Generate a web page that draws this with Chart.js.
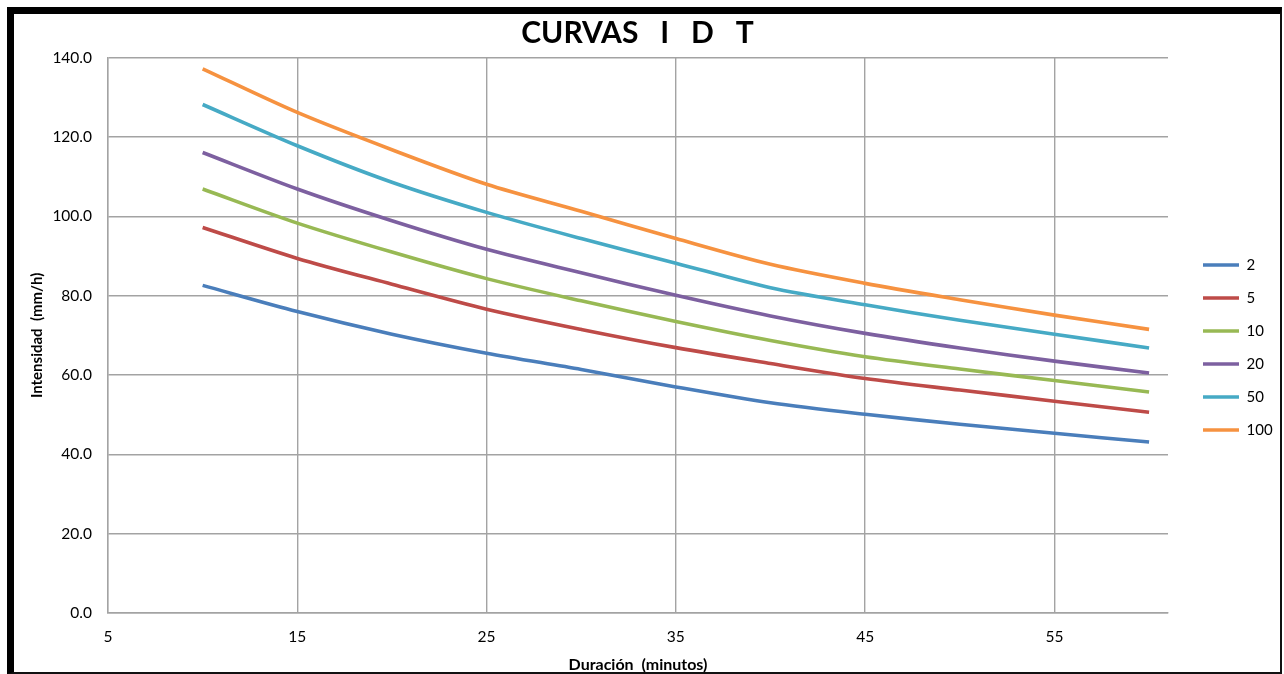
<!DOCTYPE html>
<html>
<head>
<meta charset="utf-8">
<script src="https://cdn.jsdelivr.net/npm/chart.js@4.4.1/dist/chart.umd.min.js"></script>
<style>
  html, body { margin: 0; padding: 0; background: #fff; }
  #wrap { position: relative; width: 1284px; height: 674px; }
  #frame { position: absolute; left: 7px; top: 7px; width: 1275px; height: 667px; box-sizing: border-box;
           border-left: 7px solid #000; border-top: 7px solid #000; border-right: 2px solid #111; border-bottom: 2px solid #111;
           pointer-events: none; }
  canvas { position: absolute; left: 0; top: 0; }
</style>
</head>
<body>
<div id="wrap">
  <canvas id="c" width="1284" height="674"></canvas>
  <div id="frame"></div>
</div>
<script>
const durations = [10, 15, 20, 25, 30, 35, 40, 45, 50, 55, 60];
const seriesNames = ['2', '5', '10', '20', '50', '100'];
const t2   = [82.6, 76.0, 70.3, 65.5, 61.4, 57.0, 53.0, 50.1, 47.6, 45.3, 43.1];
const t5   = [97.2, 89.4, 82.9, 76.6, 71.5, 66.9, 62.9, 59.1, 56.2, 53.4, 50.6];
const t10  = [106.9, 98.3, 91.0, 84.3, 78.7, 73.5, 68.7, 64.6, 61.5, 58.6, 55.7];
const t20  = [116.1, 106.9, 98.9, 91.7, 85.8, 80.1, 74.9, 70.5, 66.8, 63.5, 60.5];
const t50  = [128.2, 117.8, 108.6, 101.0, 94.4, 88.2, 82.0, 77.7, 73.8, 70.3, 66.8];
const t100 = [137.2, 126.2, 116.8, 108.1, 101.3, 94.4, 87.9, 83.1, 79.0, 75.1, 71.5];
const xTickValues = [5, 15, 25, 35, 45, 55];
const yTickValues = [0, 20, 40, 60, 80, 100, 120, 140];
const colors = ['#4A7EBB', '#BE4B48', '#98B954', '#7D60A0', '#46AAC5', '#F69240'];

const allSeries = [t2, t5, t10, t20, t50, t100];
const datasets = allSeries.map((vals, i) => ({
  label: seriesNames[i],
  data: vals.map((v, j) => ({ x: durations[j], y: v })),
  borderColor: colors[i],
  backgroundColor: colors[i],
  borderWidth: 3.6,
  pointRadius: 0,
  pointHoverRadius: 0,
  tension: 0.3,
  fill: false
}));

const FONT = 'Lato, "Open Sans", sans-serif';
const gridColor = '#a3a3a3';

new Chart(document.getElementById('c'), {
  type: 'line',
  data: { datasets },
  options: {
    responsive: false,
    animation: false,
    devicePixelRatio: 1,
    layout: { padding: { left: 0, right: 9, top: 0, bottom: 0 } },
    plugins: {
      title: {
        display: true,
        text: 'CURVAS   I   D   T',
        color: '#000',
        font: { family: FONT, size: 30, weight: 'bold', lineHeight: 1.2 },
        padding: { top: 15, bottom: 6.7 }
      },
      legend: {
        position: 'right',
        maxWidth: 90,
        title: { display: true, text: ' ', font: { size: 10, lineHeight: 1 }, padding: { top: 11, bottom: 0 } },
        labels: {
          usePointStyle: true,
          pointStyle: 'line',
          pointStyleWidth: 36,
          boxWidth: 36,
          padding: 18,
          color: '#000',
          font: { family: FONT, size: 15 }
        }
      },
      tooltip: { enabled: false }
    },
    scales: {
      x: {
        type: 'linear',
        min: 5,
        max: 61,
        afterBuildTicks: s => { s.ticks = xTickValues.map(v => ({ value: v })); },
        afterFit: s => { s.height = 61; },
        grid: { color: gridColor, lineWidth: 1.4, drawTicks: false },
        border: { display: true, color: gridColor, width: 1.4 },
        ticks: { color: '#000', font: { family: FONT, size: 15.5 }, padding: 15, maxRotation: 0 },
        title: {
          display: true,
          text: 'Duración  (minutos)',
          color: '#000',
          font: { family: FONT, size: 16, weight: 'bold', lineHeight: 1.2 },
          padding: { top: 0, bottom: 0 }
        }
      },
      y: {
        type: 'linear',
        min: 0,
        max: 140,
        afterBuildTicks: s => { s.ticks = yTickValues.map(v => ({ value: v })); },
        afterFit: s => { s.width = 108; },
        grid: { color: gridColor, lineWidth: 1.4, drawTicks: false },
        border: { display: true, color: gridColor, width: 1.4 },
        ticks: { color: '#000', font: { family: FONT, size: 15.5 }, padding: 16, callback: v => Number(v).toFixed(1) },
        title: {
          display: true,
          text: 'Intensidad  (mm/h)',
          color: '#000',
          font: { family: FONT, size: 15, weight: 'bold', lineHeight: 1.2 },
          padding: { top: 28, bottom: 0 }
        }
      },
      yR: {
        position: 'right',
        display: true,
        grid: { display: false, drawTicks: false },
        border: { display: false },
        ticks: { display: false },
        afterFit: s => { s.width = 17; }
      }
    }
  }
});
</script>
</body>
</html>
